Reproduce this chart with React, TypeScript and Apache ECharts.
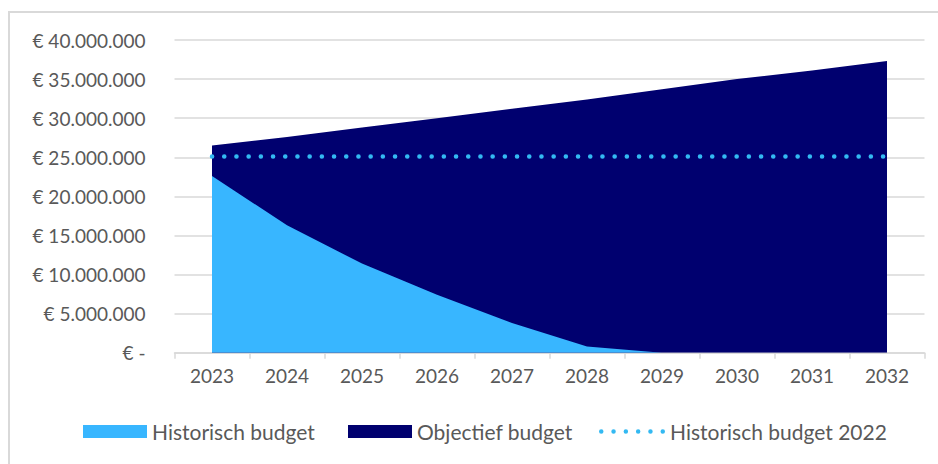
import React, { useEffect, useRef } from "react";
import * as echarts from "echarts";

const years = ["2023", "2024", "2025", "2026", "2027", "2028", "2029", "2030", "2031", "2032"];
const historischBudget = [22600000, 16300000, 11400000, 7400000, 3800000, 800000, 0, 0, 0, 0];
const objectiefBudget = [26500000, 27600000, 28800000, 30000000, 31200000, 32400000, 33700000, 35000000, 36100000, 37300000];
const historischBudget2022 = [25100000, 25100000, 25100000, 25100000, 25100000, 25100000, 25100000, 25100000, 25100000, 25100000];
const yTicks = { min: 0, max: 40000000, interval: 5000000 };

const FONT = "Lato";
const TEXT = "#595959";
const LIGHT = "#38b6ff";
const DARK = "#00006f";
const DOT = "#33b9f2";

function fmt(v: number): string {
  if (v === 0) return "€ -";
  return "€ " + String(Math.round(v)).replace(/\B(?=(\d{3})+(?!\d))/g, ".");
}

function dotsPath(): string {
  let d = "";
  for (let i = 0; i < 6; i++) {
    const cx = 2.25 + i * 12.3;
    d += `M${cx - 2.25} 2.25a2.25 2.25 0 1 0 4.5 0a2.25 2.25 0 1 0 -4.5 0z`;
  }
  return "path://" + d;
}

export default function App() {
  const ref = useRef<HTMLDivElement>(null);
  useEffect(() => {
    if (!ref.current) return;
    const chart = echarts.init(ref.current, undefined, { renderer: "svg" });
    const legendText = { color: TEXT, fontFamily: FONT, fontSize: 21 };
    chart.setOption({
      animation: false,
      backgroundColor: "#ffffff",
      graphic: [
        {
          type: "rect",
          shape: { x: 9, y: 12, width: 960, height: 480 },
          style: { fill: "none", stroke: "#d9d9d9", lineWidth: 2 },
          silent: true,
          z: -1,
        },
      ],
      grid: { left: 174.5, right: 13.5, top: 40, bottom: 111.3, containLabel: false },
      legend: [
        {
          data: [{ name: "Historisch budget", icon: "rect" }],
          left: 83, top: 421, padding: 0, itemWidth: 64, itemHeight: 13, itemGap: 0,
          textStyle: legendText, selectedMode: false,
        },
        {
          data: [{ name: "Objectief budget", icon: "rect" }],
          left: 348, top: 421, padding: 0, itemWidth: 64, itemHeight: 13, itemGap: 0,
          textStyle: legendText, selectedMode: false,
        },
        {
          data: [{ name: "Historisch budget 2022", icon: dotsPath(), itemStyle: { color: DOT } }],
          left: 599, top: 421, padding: 0, itemWidth: 66, itemHeight: 4.5, itemGap: 0,
          textStyle: legendText, selectedMode: false,
        },
      ],
      xAxis: {
        type: "category",
        data: years,
        boundaryGap: true,
        axisLine: { lineStyle: { color: "#d9d9d9", width: 1.5 } },
        axisTick: { show: true, length: 6, lineStyle: { color: "#d9d9d9", width: 1.5 } },
        axisLabel: { color: TEXT, fontFamily: FONT, fontSize: 19, margin: 13 },
        splitLine: { show: false },
      },
      yAxis: {
        type: "value",
        min: yTicks.min,
        max: yTicks.max,
        interval: yTicks.interval,
        axisLine: { show: false },
        axisTick: { show: false },
        axisLabel: { color: TEXT, fontFamily: FONT, fontSize: 19, margin: 29, formatter: fmt },
        splitLine: { lineStyle: { color: "#d9d9d9", width: 1.5 } },
      },
      series: [
        {
          name: "Objectief budget",
          type: "line",
          data: objectiefBudget,
          symbol: "none",
          lineStyle: { width: 0 },
          itemStyle: { color: DARK },
          areaStyle: { color: DARK, opacity: 1 },
          z: 2,
        },
        {
          name: "Historisch budget",
          type: "line",
          data: historischBudget,
          symbol: "none",
          lineStyle: { width: 0 },
          itemStyle: { color: LIGHT },
          areaStyle: { color: LIGHT, opacity: 1 },
          z: 3,
        },
        {
          name: "Historisch budget 2022",
          type: "line",
          data: historischBudget2022,
          symbol: "none",
          itemStyle: { color: DOT },
          lineStyle: { color: DOT, width: 4.5, type: [0.1, 12.1], cap: "round" },
          z: 4,
        },
      ],
    });
    return () => chart.dispose();
  }, []);
  return <div ref={ref} style={{ width: 938, height: 464, position: "absolute", left: 0, top: 0 }} />;
}
